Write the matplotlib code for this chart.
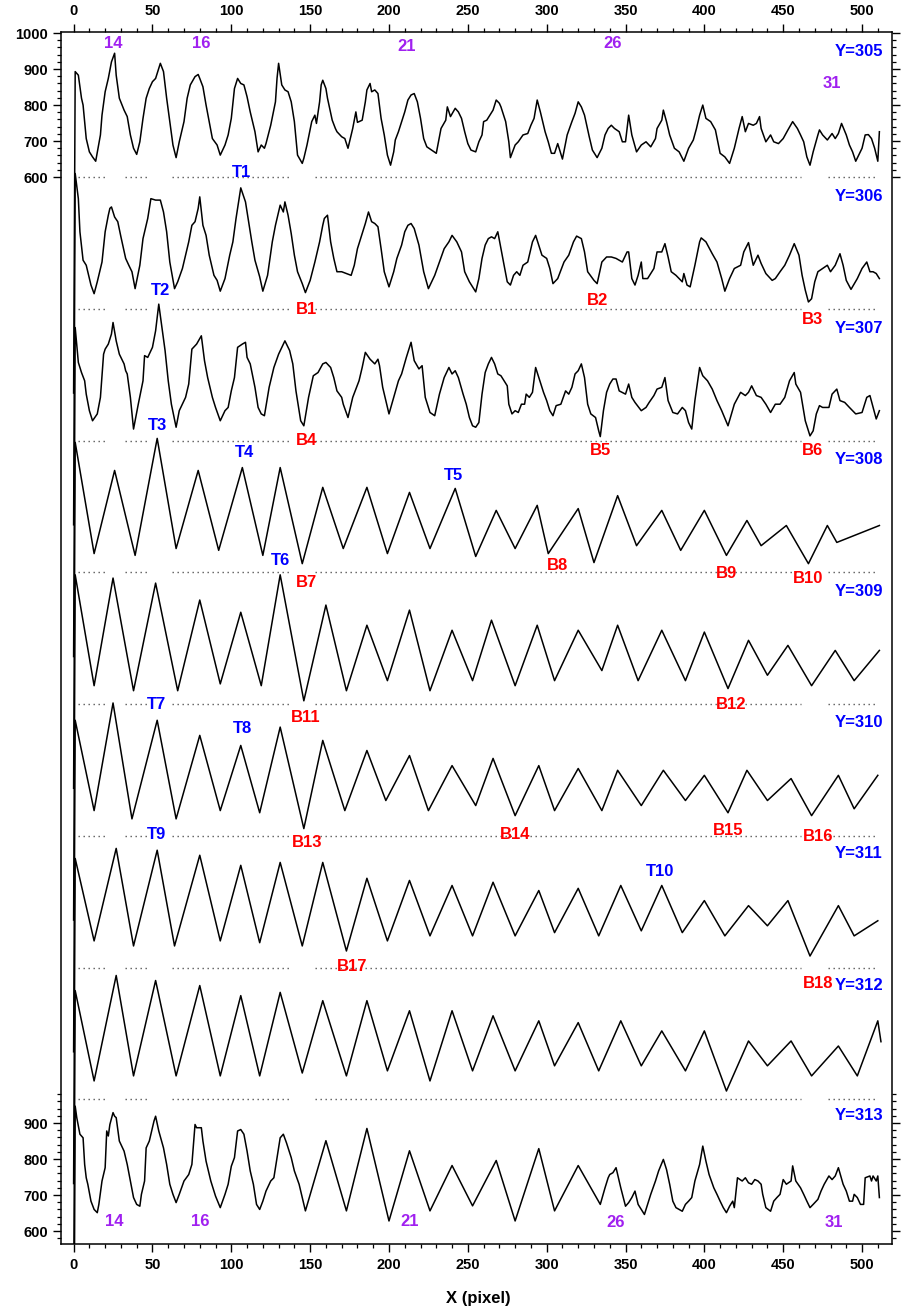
import matplotlib
matplotlib.use("Agg")
import matplotlib.pyplot as plt
import numpy as np

plt.rcParams['font.family'] = ['Liberation Sans', 'DejaVu Sans']
plt.rcParams['font.weight'] = 'bold'

# intensity profiles along X for rows Y=305..313, (x pixel, intensity)
row_ids = [305, 306, 307, 308, 309, 310, 311, 312, 313]

prof_305 = [(0, 0), (1, 893), (3, 883), (5, 819), (6, 800), (7, 754), (8, 707), (10, 670), (12, 656), (14, 644),
            (17, 717), (18, 772), (20, 837), (22, 874), (24, 920), (26, 944), (27, 883), (29, 819), (32, 786),
            (34, 768), (36, 717), (38, 680), (40, 663), (42, 698), (44, 763), (46, 819), (48, 846), (50, 865),
            (52, 874), (54, 902), (55, 916), (57, 893), (59, 819), (61, 754), (63, 689), (65, 654), (67, 698),
            (70, 754), (72, 819), (74, 856), (77, 879), (79, 885), (80, 874), (82, 851), (84, 800), (86, 754),
            (88, 707), (91, 689), (93, 661), (96, 689), (98, 717), (100, 763), (102, 846), (104, 874), (106, 860),
            (108, 856), (110, 823), (112, 781), (115, 726), (117, 670), (119, 689), (121, 680), (122, 693),
            (125, 744), (128, 809), (129, 874), (130, 916), (132, 856), (134, 842), (136, 837), (138, 809),
            (140, 754), (142, 661), (145, 638), (146, 652), (148, 689), (151, 754), (153, 772), (154, 749),
            (156, 809), (157, 856), (158, 869), (160, 846), (161, 819), (164, 758), (166, 735), (167, 726),
            (170, 712), (172, 707), (174, 680), (175, 698), (177, 735), (179, 781), (180, 752), (183, 758),
            (185, 809), (186, 842), (188, 860), (189, 837), (191, 842), (193, 832), (195, 763), (197, 717),
            (199, 661), (201, 633), (203, 670), (204, 703), (206, 726), (208, 754), (210, 781), (212, 814),
            (214, 828), (216, 832), (218, 809), (220, 763), (222, 707), (224, 684), (227, 675), (230, 666),
            (233, 735), (236, 758), (237, 795), (239, 768), (242, 791), (244, 781), (246, 763), (248, 726),
            (250, 693), (252, 675), (255, 670), (257, 698), (259, 717), (260, 754), (262, 758), (264, 772),
            (266, 786), (268, 814), (270, 805), (271, 795), (274, 754), (276, 698), (277, 654), (280, 689),
            (282, 698), (285, 717), (288, 721), (290, 744), (292, 763), (294, 814), (296, 781), (299, 726),
            (301, 698), (303, 666), (305, 666), (307, 693), (310, 650), (313, 717), (316, 754), (318, 777),
            (320, 809), (322, 795), (324, 772), (327, 712), (329, 675), (332, 654), (335, 680), (337, 717),
            (339, 735), (341, 744), (343, 735), (346, 726), (348, 698), (350, 698), (352, 772), (354, 717),
            (357, 670), (360, 689), (363, 698), (366, 684), (369, 707), (370, 735), (373, 758), (374, 786),
            (376, 754), (378, 717), (381, 680), (384, 670), (387, 644), (390, 680), (393, 703), (395, 735),
            (397, 772), (399, 800), (401, 763), (404, 754), (407, 731), (410, 666), (413, 656), (416, 638),
            (419, 680), (422, 735), (424, 768), (426, 726), (428, 749), (431, 744), (433, 749), (435, 768),
            (436, 735), (439, 698), (442, 717), (444, 698), (447, 693), (450, 707), (453, 731), (456, 754),
            (459, 735), (461, 717), (463, 698), (465, 656), (467, 633), (469, 670), (472, 717), (473, 731),
            (475, 717), (478, 703), (481, 721), (483, 707), (485, 721), (487, 749), (490, 717), (492, 689),
            (494, 670), (496, 644), (500, 680), (502, 717), (504, 718), (506, 707), (508, 680), (510, 644),
            (511, 726)]

prof_306 = [(0, 0), (1, 976), (3, 906), (4, 814), (6, 735), (8, 721), (10, 684), (11, 666), (13, 642), (15, 675),
            (18, 730), (20, 814), (22, 860), (23, 879), (24, 883), (26, 855), (28, 842), (30, 800), (33, 740),
            (35, 721), (37, 703), (39, 656), (42, 721), (44, 795), (47, 851), (49, 906), (52, 902), (55, 902),
            (57, 869), (59, 814), (61, 730), (64, 656), (66, 675), (69, 712), (73, 786), (75, 832), (77, 842),
            (79, 879), (80, 911), (82, 832), (84, 804), (86, 749), (89, 693), (91, 679), (93, 649), (96, 684),
            (99, 749), (101, 786), (103, 851), (106, 936), (109, 897), (111, 842), (113, 786), (115, 735),
            (118, 689), (120, 649), (123, 693), (126, 786), (128, 832), (130, 869), (131, 888), (133, 869),
            (134, 897), (136, 860), (138, 809), (140, 749), (142, 703), (145, 670), (147, 645), (150, 679),
            (153, 730), (156, 786), (158, 832), (159, 851), (161, 860), (163, 786), (165, 740), (167, 703),
            (170, 703), (173, 698), (176, 693), (178, 721), (180, 767), (183, 809), (185, 837), (187, 869),
            (189, 842), (191, 837), (193, 828), (195, 767), (197, 703), (200, 661), (203, 703), (205, 740),
            (208, 777), (210, 814), (212, 832), (214, 837), (216, 823), (219, 777), (222, 703), (225, 656),
            (229, 693), (232, 730), (235, 767), (238, 786), (240, 804), (243, 786), (246, 758), (248, 703),
            (251, 675), (255, 647), (257, 684), (259, 740), (261, 777), (263, 795), (265, 800), (267, 795),
            (269, 814), (271, 767), (273, 721), (275, 675), (277, 666), (279, 693), (281, 703), (283, 693),
            (285, 721), (288, 730), (291, 786), (293, 804), (295, 777), (297, 749), (300, 740), (302, 712),
            (304, 670), (307, 684), (311, 730), (314, 749), (317, 786), (319, 802), (322, 795), (324, 758),
            (326, 703), (330, 679), (332, 670), (335, 730), (338, 744), (341, 744), (344, 740), (348, 730),
            (351, 758), (352, 758), (354, 684), (356, 666), (358, 693), (360, 730), (361, 684), (364, 684),
            (368, 712), (370, 758), (373, 758), (375, 781), (377, 744), (379, 703), (382, 693), (386, 675),
            (387, 698), (389, 666), (391, 661), (394, 721), (397, 786), (398, 797), (401, 786), (405, 753),
            (408, 730), (411, 684), (413, 649), (416, 684), (419, 712), (423, 721), (425, 758), (428, 784),
            (431, 721), (434, 749), (436, 726), (439, 698), (443, 679), (445, 684), (448, 703), (451, 721),
            (454, 749), (457, 781), (460, 749), (462, 693), (464, 652), (466, 619), (468, 628), (470, 675),
            (472, 703), (475, 712), (478, 721), (480, 703), (483, 721), (486, 753), (488, 721), (490, 679),
            (493, 654), (497, 684), (500, 712), (503, 730), (505, 703), (507, 703), (509, 698), (511, 684)]

prof_307 = [(0, 0), (1, 914), (3, 817), (5, 789), (7, 766), (8, 729), (10, 683), (12, 655), (15, 674), (17, 720),
            (19, 840), (20, 854), (22, 868), (24, 896), (25, 928), (27, 877), (29, 840), (32, 813), (33, 794),
            (34, 785), (36, 720), (38, 632), (41, 701), (44, 766), (45, 836), (47, 831), (50, 859), (52, 905),
            (54, 979), (56, 914), (58, 850), (60, 766), (62, 701), (65, 637), (67, 683), (71, 720), (73, 757),
            (75, 854), (78, 868), (81, 891), (83, 822), (85, 775), (88, 720), (90, 692), (93, 655), (96, 683),
            (98, 692), (100, 738), (102, 775), (104, 859), (107, 868), (109, 873), (110, 831), (112, 813),
            (115, 748), (117, 692), (119, 674), (121, 669), (124, 748), (127, 803), (130, 840), (134, 877),
            (137, 850), (139, 813), (141, 738), (144, 655), (146, 641), (149, 720), (152, 780), (155, 789),
            (158, 813), (160, 817), (163, 803), (165, 775), (167, 738), (170, 720), (171, 701), (174, 664),
            (177, 720), (181, 766), (183, 803), (185, 845), (188, 826), (191, 813), (193, 826), (194, 808),
            (196, 748), (200, 674), (203, 720), (206, 766), (208, 785), (211, 831), (214, 873), (216, 822),
            (219, 799), (221, 808), (223, 720), (226, 678), (229, 669), (232, 729), (235, 775), (238, 803),
            (240, 785), (242, 794), (244, 775), (247, 729), (249, 701), (251, 664), (253, 641), (255, 637),
            (257, 650), (259, 729), (261, 789), (263, 813), (265, 831), (267, 813), (269, 785), (271, 780),
            (275, 752), (276, 701), (278, 674), (280, 683), (282, 678), (284, 701), (286, 701), (287, 729),
            (289, 720), (291, 734), (293, 803), (295, 775), (298, 734), (300, 711), (302, 683), (304, 669),
            (306, 697), (309, 701), (312, 738), (314, 729), (316, 748), (318, 785), (320, 794), (322, 813),
            (324, 775), (326, 701), (328, 674), (331, 664), (333, 627), (334, 611), (336, 683), (338, 734),
            (340, 757), (342, 771), (344, 771), (346, 738), (350, 729), (352, 757), (354, 720), (356, 706),
            (360, 683), (363, 692), (365, 706), (368, 725), (370, 743), (373, 748), (375, 775), (377, 711),
            (380, 678), (383, 674), (386, 692), (388, 683), (390, 650), (392, 632), (394, 711), (397, 803),
            (399, 780), (402, 766), (405, 743), (408, 711), (411, 683), (415, 641), (419, 701), (423, 734),
            (426, 725), (428, 734), (430, 752), (433, 725), (436, 720), (439, 701), (442, 678), (445, 701),
            (448, 701), (451, 720), (454, 766), (457, 789), (458, 757), (461, 734), (464, 655), (467, 613),
            (469, 627), (471, 674), (473, 697), (475, 692), (479, 692), (481, 729), (484, 743), (486, 711),
            (489, 706), (492, 692), (496, 674), (500, 678), (503, 720), (505, 725), (507, 692), (509, 660),
            (511, 683)]

prof_308 = [(0, 0), (1, 961), (13, 652), (26, 883), (39, 647), (53, 972), (65, 666), (79, 883), (92, 661),
            (107, 891), (120, 647), (131, 891), (145, 624), (158, 836), (171, 666), (186, 836), (199, 652),
            (213, 822), (226, 666), (242, 833), (255, 644), (268, 772), (280, 666), (294, 786), (301, 652),
            (320, 777), (330, 627), (345, 813), (357, 674), (373, 772), (385, 661), (400, 772), (414, 647),
            (427, 744), (436, 674), (452, 730), (466, 624), (478, 730), (484, 683), (511, 730)]

prof_309 = [(0, 0), (1, 959), (13, 651), (25, 950), (38, 637), (52, 936), (66, 637), (80, 889), (93, 656),
            (106, 855), (119, 651), (131, 959), (146, 609), (160, 875), (173, 637), (186, 819), (199, 665),
            (213, 861), (226, 637), (240, 805), (253, 665), (265, 833), (280, 651), (294, 819), (305, 665),
            (320, 805), (335, 693), (345, 819), (358, 665), (373, 805), (388, 665), (400, 800), (415, 643),
            (428, 777), (440, 680), (453, 763), (468, 651), (483, 749), (495, 665), (511, 749)]

prof_310 = [(0, 0), (1, 921), (13, 670), (25, 969), (37, 647), (53, 921), (65, 647), (80, 879), (93, 670),
            (106, 851), (118, 664), (131, 902), (146, 620), (158, 865), (172, 670), (186, 837), (198, 698),
            (213, 823), (225, 670), (240, 795), (255, 684), (266, 815), (280, 656), (295, 795), (305, 670),
            (320, 787), (335, 670), (345, 782), (360, 684), (374, 782), (388, 698), (400, 768), (415, 664),
            (427, 782), (440, 698), (455, 759), (468, 656), (485, 768), (495, 675), (510, 768)]

prof_311 = [(0, 0), (1, 903), (13, 674), (27, 931), (38, 660), (53, 926), (64, 660), (80, 912), (93, 674),
            (106, 884), (118, 669), (131, 892), (145, 660), (158, 892), (173, 646), (186, 848), (199, 674),
            (213, 842), (226, 688), (240, 828), (253, 688), (266, 837), (280, 688), (295, 814), (305, 697),
            (320, 820), (333, 688), (347, 828), (360, 702), (373, 828), (386, 697), (400, 786), (413, 688),
            (428, 772), (440, 716), (453, 786), (467, 632), (485, 772), (495, 688), (510, 730)]

prof_312 = [(0, 0), (1, 902), (13, 651), (27, 944), (38, 665), (52, 930), (65, 665), (80, 916), (93, 665),
            (106, 888), (118, 665), (131, 897), (145, 673), (158, 874), (173, 665), (186, 874), (199, 679),
            (213, 846), (226, 651), (240, 846), (253, 679), (266, 832), (280, 679), (295, 818), (305, 693),
            (320, 813), (333, 679), (347, 818), (360, 693), (373, 790), (388, 679), (400, 790), (414, 623),
            (428, 762), (440, 693), (455, 762), (468, 665), (485, 748), (497, 665), (510, 818), (512, 760)]

prof_313 = [(0, 0), (1, 947), (2, 915), (4, 869), (6, 859), (7, 785), (8, 748), (9, 730), (11, 683), (13, 660),
            (15, 651), (16, 674), (18, 739), (20, 776), (21, 878), (22, 864), (23, 896), (25, 929), (26, 919),
            (27, 915), (29, 850), (32, 822), (34, 785), (36, 739), (38, 693), (40, 674), (42, 669), (43, 702),
            (45, 739), (46, 831), (48, 850), (51, 906), (52, 919), (54, 878), (57, 831), (59, 785), (61, 730),
            (63, 702), (65, 679), (67, 702), (70, 739), (73, 757), (75, 785), (77, 896), (78, 887), (81, 887),
            (82, 850), (84, 794), (87, 739), (90, 697), (93, 665), (96, 702), (98, 730), (100, 780), (102, 804),
            (104, 878), (106, 882), (108, 869), (110, 822), (112, 767), (114, 730), (116, 674), (118, 660),
            (120, 683), (122, 711), (125, 739), (127, 748), (129, 804), (131, 859), (133, 869), (135, 845),
            (138, 804), (140, 767), (143, 730), (147, 656), (160, 851), (173, 656), (186, 885), (200, 628),
            (213, 823), (226, 656), (240, 782), (253, 670), (268, 796), (280, 628), (295, 829), (305, 656),
            (320, 782), (334, 674), (337, 720), (339, 748), (340, 757), (342, 762), (344, 776), (345, 757),
            (347, 720), (350, 669), (352, 679), (354, 693), (356, 711), (358, 674), (360, 660), (362, 646),
            (364, 674), (366, 702), (369, 739), (371, 767), (374, 799), (376, 771), (378, 730), (380, 683),
            (382, 665), (386, 655), (388, 674), (390, 683), (392, 693), (394, 739), (397, 785), (399, 836),
            (401, 794), (403, 757), (406, 720), (408, 702), (410, 683), (412, 665), (414, 651), (416, 669),
            (418, 683), (419, 665), (421, 748), (424, 739), (426, 748), (428, 734), (430, 730), (432, 743),
            (434, 739), (436, 730), (437, 702), (439, 665), (442, 655), (444, 683), (446, 693), (448, 702),
            (450, 743), (452, 730), (455, 739), (456, 781), (458, 739), (461, 720), (463, 702), (465, 683),
            (467, 665), (469, 674), (472, 688), (474, 711), (476, 730), (479, 753), (481, 743), (483, 753),
            (485, 776), (488, 730), (490, 711), (492, 683), (494, 683), (495, 702), (497, 693), (499, 674),
            (501, 674), (502, 748), (505, 753), (506, 739), (507, 753), (509, 739), (510, 753), (511, 693)]

profiles = [prof_305, prof_306, prof_307, prof_308, prof_309, prof_310, prof_311, prof_312, prof_313]

# x ranges where the 600 reference line is dotted
ref_segments = [(2.5, 20), (32.5, 46.5), (62.5, 138), (153, 461), (478.5, 508.5)]

# period numbers, peak (T) and dip (B) markers: (text, x, y)
period_top = [("14", 25.4, 970), ("16", 80.8, 970), ("21", 211.5, 964), ("26", 341.6, 970), ("31", 480.6, 859)]
period_bottom = [("14", 26, -2302), ("16", 80.6, -2302), ("21", 213, -2302), ("26", 343.8, -2303), ("31", 482.2, -2303)]
t_marks = [("T1", 106.2, 614), ("T2", 54.8, 284), ("T3", 53.4, -89), ("T4", 108.6, -164), ("T5", 241.1, -228),
           ("T6", 131.5, -466), ("T7", 52.8, -866), ("T8", 107.4, -933), ("T9", 52.8, -1225), ("T10", 371.8, -1330)]
b_marks = [("B1", 148, 231), ("B2", 332.5, 256), ("B3", 468.8, 203), ("B4", 148, -133), ("B5", 334.4, -161),
           ("B6", 468.8, -161), ("B7", 148, -525), ("B8", 307.1, -478), ("B9", 414.3, -500), ("B10", 465.6, -514),
           ("B11", 147.3, -900), ("B12", 416.8, -864), ("B13", 148, -1250), ("B14", 279.8, -1225),
           ("B15", 414.9, -1216), ("B16", 472, -1233), ("B17", 176.5, -1594), ("B18", 472, -1639)]
row_label_y = [950, 547, 178, -186, -550, -914, -1278, -1647, -2008]

step = 366  # vertical shift between consecutive rows

fig = plt.figure(figsize=(9.02, 13.09), dpi=100)
ax = fig.add_axes([61 / 902, 65 / 1309, 831 / 902, 1212 / 1309])

for k, prof in enumerate(profiles):
    xs = np.array([p[0] for p in prof], dtype=float)
    ys = np.array([p[1] for p in prof], dtype=float) - k * step
    ax.plot(xs, ys, color='black', lw=1.1, zorder=3)
    if k < len(profiles) - 1:
        for a, b in ref_segments:
            ax.plot([a, b], [600 - k * step] * 2, color='0.35', lw=1.0,
                    dashes=(1, 2.6), zorder=2)

for txt, x, y in period_top + period_bottom:
    ax.text(x, y, txt, color='#A020F0', fontsize=12, fontweight='bold', ha='center', va='center')
for txt, x, y in t_marks:
    ax.text(x, y, txt, color='#0000FF', fontsize=12, fontweight='bold', ha='center', va='center')
for txt, x, y in b_marks:
    ax.text(x, y, txt, color='#FF0000', fontsize=12, fontweight='bold', ha='center', va='center')
for rid, y in zip(row_ids, row_label_y):
    ax.text(498, y, f"Y={rid}", color='#0000FF', fontsize=12, fontweight='bold', ha='center', va='center')

ax.set_xlim(-8, 519)
ax.set_ylim(1000 - 3364, 1003)

ax.set_xticks(np.arange(0, 501, 50))
ax.set_xticks(np.arange(0, 511, 10), minor=True)
ax.tick_params(axis='x', which='both', top=True, labeltop=True, bottom=True, labelbottom=True)

last = (len(profiles) - 1) * step
major_y = [600, 700, 800, 900, 1000] + [v - last for v in (600, 700, 800, 900)]
major_lab = ['600', '700', '800', '900', '1000', '600', '700', '800', '900']
minor_y = list(np.arange(600, 1001, 20)) + [v - last for v in np.arange(580, 981, 20)]
ax.set_yticks(major_y)
ax.set_yticklabels(major_lab)
ax.set_yticks(minor_y, minor=True)
ax.tick_params(axis='y', which='both', left=True, right=True, labelright=False)

ax.tick_params(which='major', direction='out', length=5.5, width=1.0, labelsize=10.5, pad=4)
ax.tick_params(which='minor', direction='out', length=3, width=0.9)
ax.tick_params(axis='x', which='major', pad=4.5)
for lab in ax.get_xticklabels() + ax.get_yticklabels():
    lab.set_fontweight('bold')
for sp in ax.spines.values():
    sp.set_linewidth(1.1)

fig.text(478 / 902, 1 - 1298 / 1309, "X (pixel)", fontsize=12, fontweight='bold', ha='center', va='center')

fig.savefig("out.png", dpi=100)
